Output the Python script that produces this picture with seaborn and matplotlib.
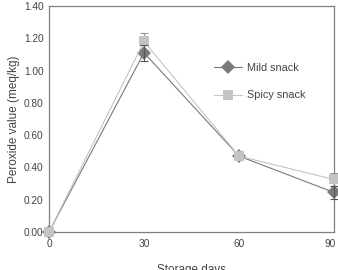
import numpy as np
import pandas as pd
import matplotlib
matplotlib.use("Agg")
import matplotlib.pyplot as plt
import matplotlib.transforms as mtransforms
import seaborn as sns

days = [0, 30, 60, 90]
mild = [0.0, 1.11, 0.47, 0.245]
mild_err = [np.nan, 0.05, np.nan, 0.04]
spicy = [0.0, 1.18, 0.47, 0.325]
spicy_err = [np.nan, 0.05, np.nan, 0.04]
y_ticks = [0.0, 0.2, 0.4, 0.6, 0.8, 1.0, 1.2, 1.4]

sns.set_style("white")
plt.rcParams['font.family'] = ['Liberation Sans', 'DejaVu Sans']

df = pd.DataFrame({
    'days': days * 2,
    'value': mild + spicy,
    'group': ['Mild snack'] * 4 + ['Spicy snack'] * 4,
})

fig = plt.figure(figsize=(3.38, 2.70), dpi=100)
ax = fig.add_axes([0.145, 0.141, 0.843, 0.837])

colors = {'Mild snack': '#7a7a7a', 'Spicy snack': '#c4c4c4'}
sns.lineplot(data=df, x='days', y='value', hue='group', style='group',
             markers={'Mild snack': 'D', 'Spicy snack': 's'}, dashes=False,
             palette=colors, markersize=7.5, markeredgewidth=0, linewidth=0.8,
             ax=ax, clip_on=False, zorder=3)

# error bars only where the reference shows them
m = ~np.isnan(mild_err)
ax.errorbar(np.array(days)[m], np.array(mild)[m], yerr=np.array(mild_err)[m],
            fmt='none', ecolor='#555555', elinewidth=0.8, capsize=3,
            capthick=0.8, clip_on=False, zorder=4)
s = ~np.isnan(spicy_err)
ax.errorbar(np.array(days)[s], np.array(spicy)[s], yerr=np.array(spicy_err)[s],
            fmt='none', ecolor='#999999', elinewidth=0.8, capsize=3,
            capthick=0.8, clip_on=False, zorder=2)

ax.set_xlim(0, 90)
ax.set_ylim(0, 1.4)
ax.set_xticks(days)
ax.set_yticks(y_ticks)
ax.set_yticklabels([f"{t:.2f}" for t in y_ticks])
ax.tick_params(direction='in', length=3, width=0.8, labelsize=7.3,
               colors='#808080', labelcolor='#444444', pad=4)
ax.tick_params(axis='x', pad=5)
for sp in ax.spines.values():
    sp.set_color('#7f7f7f')
    sp.set_linewidth(0.9)

# nudge the last x label in so it fits the canvas, as in the original
last = ax.get_xticklabels()[-1]
last.set_transform(last.get_transform() +
                   mtransforms.ScaledTranslation(-3 / 72, 0, fig.dpi_scale_trans))

ax.set_xlabel('Storage days', fontsize=8.5, color='#444444', labelpad=11)
ax.set_ylabel('Peroxide value (meq/kg)', fontsize=8.5, color='#444444', labelpad=3)

leg = ax.legend(loc='center left', bbox_to_anchor=(0.545, 0.665), frameon=False,
                fontsize=7.8, labelspacing=1.6, handlelength=2.6,
                handletextpad=0.4, markerscale=1.0)
for t in leg.get_texts():
    t.set_color('#444444')

fig.savefig('out.png', dpi=100)
